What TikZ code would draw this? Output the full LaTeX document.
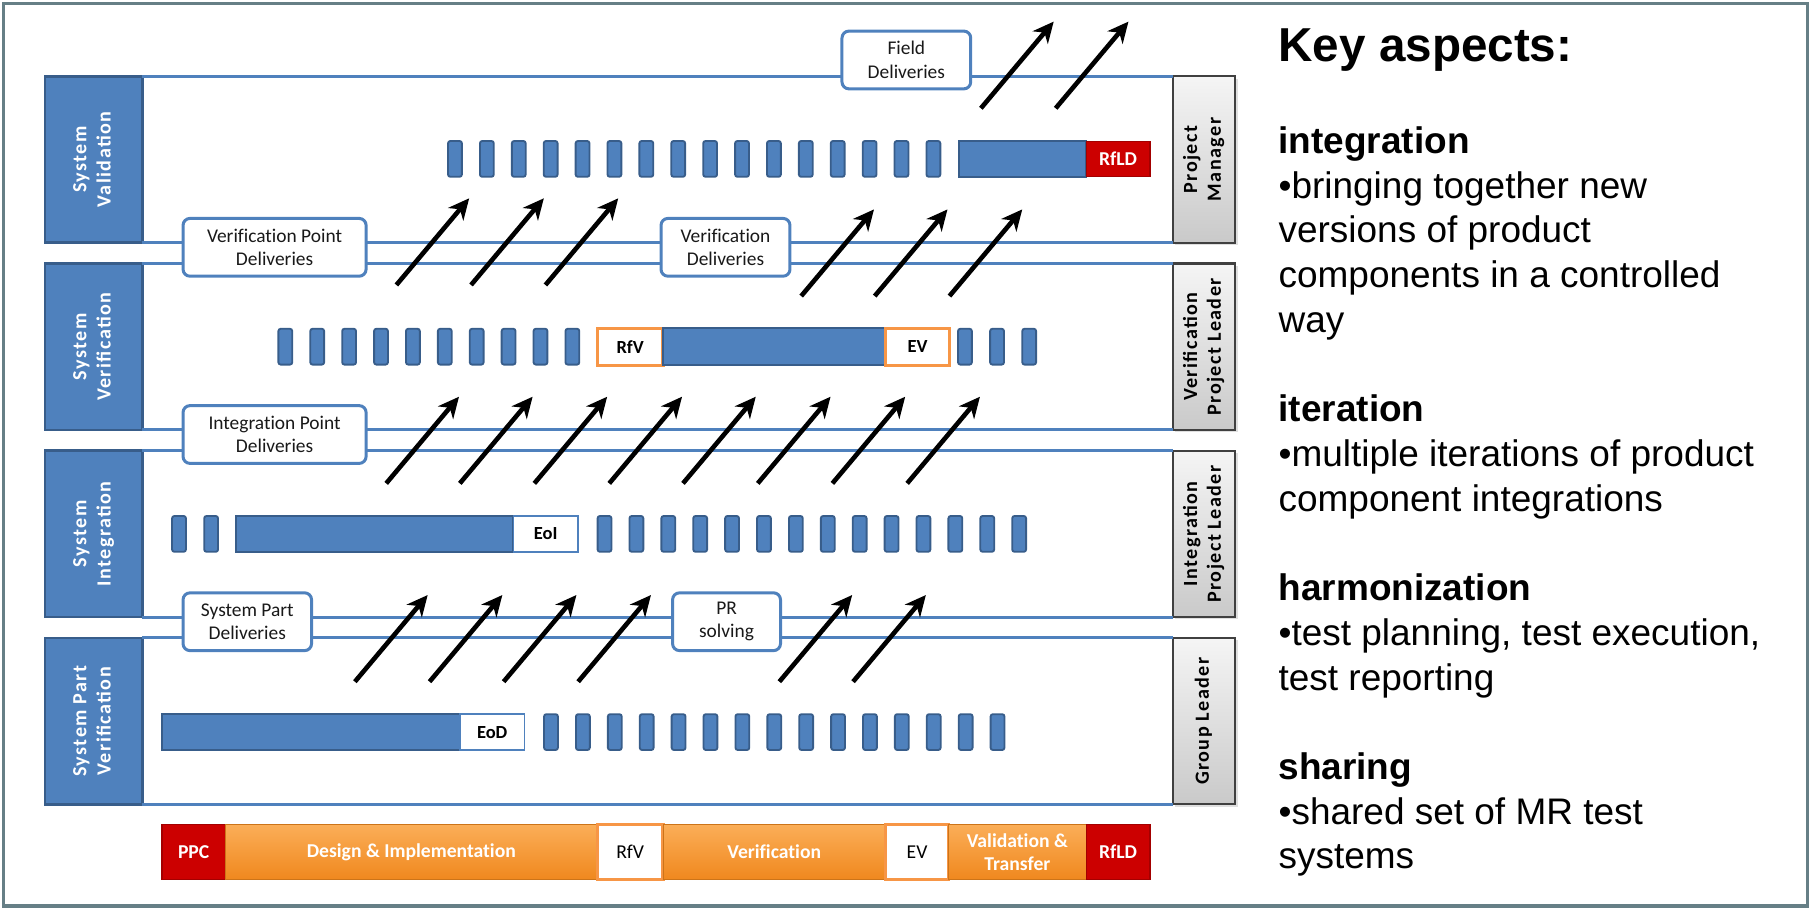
\documentclass[tikz,border=0pt]{standalone}
\usepackage{fontspec}
\setmainfont[Ligatures=NoCommon]{Carlito}
\newfontfamily\lanefont[LetterSpace=7]{Carlito}
\newfontfamily\arialfont{Liberation Sans}
\usepackage{graphicx}
\usetikzlibrary{arrows.meta, positioning, shadows}

\definecolor{laneblue}{HTML}{4F81BD}
\definecolor{lanedark}{HTML}{385D8A}
\definecolor{phaseorange}{HTML}{F79646}
\definecolor{orangetop}{HTML}{FBAE58}
\definecolor{orangebot}{HTML}{F0881E}
\definecolor{gatered}{HTML}{CC0000}
\definecolor{framegray}{HTML}{667F86}

\tikzset{
lanebox/.style={draw=lanedark, fill=laneblue, line width=1.2pt, minimum width=42pt,
    minimum height=72pt, inner sep=0pt, outer sep=0pt, text=white,
    font=\lanefont\fontsize{8.7}{10.5}\selectfont\bfseries},
rolebox/.style={draw=black!75, top color=gray!8, bottom color=gray!42, line width=0.9pt,
    minimum width=27pt, minimum height=72pt, inner sep=0pt, outer sep=0pt,
    font=\lanefont\fontsize{8.7}{10.3}\selectfont\bfseries,
    drop shadow={opacity=0.25, shadow xshift=1pt, shadow yshift=-1pt}},
laneline/.style={draw=laneblue, line width=1.3pt},
pill/.style={draw=lanedark, fill=laneblue, line width=0.8pt, rounded corners=1pt,
    minimum width=6pt, minimum height=15.5pt, inner sep=0pt},
longbar/.style={draw=lanedark, fill=laneblue, line width=0.9pt, minimum height=15.5pt,
    inner sep=0pt, outer sep=0pt},
gate/.style={draw=phaseorange, fill=white, line width=1.4pt, minimum height=16pt,
    inner sep=0pt, outer sep=0pt, font=\fontsize{8}{9}\selectfont\bfseries},
endmark/.style={draw=laneblue, fill=white, line width=0.8pt, minimum height=15.5pt,
    inner sep=0pt, outer sep=0pt, font=\fontsize{8}{9}\selectfont\bfseries},
redbox/.style={draw=gatered!80!black, fill=gatered, line width=0.6pt, text=white,
    inner sep=0pt, outer sep=0pt, font=\fontsize{8.5}{10}\selectfont\bfseries},
phase/.style={top color=orangetop, bottom color=orangebot, draw=orangebot!85!black,
    line width=0.4pt, text=white, minimum height=23.8pt, inner sep=0pt, outer sep=0pt,
    align=center, font=\fontsize{8.5}{10.1}\selectfont\bfseries},
deliv/.style={draw=laneblue, fill=white, line width=1.3pt, rounded corners=3pt,
    minimum height=25pt, inner sep=0pt, align=center, text=black!90,
    font=\fontsize{8.4}{10.1}\selectfont},
bigarrow/.style={-{Stealth[length=9pt, width=8.5pt, inset=2.8pt]}, line width=2pt},
keytitle/.style={anchor=base west, inner sep=0pt, font=\arialfont\bfseries\fontsize{20.6}{24}\selectfont},
keytext/.style={anchor=base west, inner sep=0pt, font=\arialfont\fontsize{16}{19}\selectfont}
}

\begin{document}
\begin{tikzpicture}[x=0.5pt, y=-0.5pt]
\useasboundingbox (0,0) rectangle (1568,787);
\draw[framegray, line width=1.6pt] (3,3) rectangle (1564,784);

% swimlanes
\foreach \ln/\yt/\lab/\role in {1/66/{System\\Validation}/{Project\\Manager},
    2/228/{System\\Verification}/{Verification\\Project Leader},
    3/390/{System\\Integration}/{Integration\\Project Leader},
    4/552/{System Part\\Verification}/{Group Leader}}{
  \node[lanebox] (lane\ln) at (81,\yt+72) {\rotatebox{90}{\begin{tabular}{@{}c@{}}\lab\end{tabular}}};
  \node[rolebox] (role\ln) at (1042,\yt+72) {\rotatebox{90}{\begin{tabular}{@{}c@{}}\role\end{tabular}}};
  \draw[laneline] (lane\ln.north east) -- (role\ln.north west);
  \draw[laneline] (lane\ln.south east) -- (role\ln.south west);
}

% system validation
\foreach \k in {0,...,15}
  \node[pill] (val\k) at (393.7+27.6*\k,137.5) {};
\node[longbar, minimum width=55pt] (valbar) at (885,137.5) {};
\node[redbox, minimum width=27.5pt, minimum height=15pt, right=0pt of valbar] (valrfld) {RfLD};

% system verification
\foreach \k in {0,...,9}
  \node[pill] (ver\k) at (246.9+27.6*\k,300) {};
\node[gate, minimum width=28.4pt] (verrfv) at (545.3,300) {RfV};
\node[longbar, minimum width=96.3pt, minimum height=16pt, right=0pt of verrfv] (verbar) {};
\node[gate, minimum width=27.8pt, right=0pt of verbar] (verev) {EV};
\foreach \k in {0,1,2}
  \node[pill] (vert\k) at (835+27.8*\k,300) {};

% system integration
\foreach \k in {0,1}
  \node[pill] (intp\k) at (154.9+27.8*\k,462) {};
\node[longbar, minimum width=120.15pt] (intbar) at (324.15,462) {};
\node[endmark, minimum width=27.95pt, right=0pt of intbar] (inteoi) {EoI};
\foreach \k in {0,...,13}
  \node[pill] (int\k) at (523.1+27.6*\k,462) {};

% system part verification
\node[longbar, minimum width=128.85pt] (spbar) at (269.05,633.5) {};
\node[endmark, minimum width=28pt, right=0pt of spbar] (speod) {EoD};
\foreach \k in {0,...,14}
  \node[pill] (sp\k) at (476.8+27.6*\k,633.5) {};

% deliveries
\node[deliv, minimum width=55.7pt] (fielddel) at (784.3,51.9) {Field\\Deliveries};
\node[deliv, minimum width=79.2pt] (vpdel) at (237.6,214) {Verification Point\\Deliveries};
\node[deliv, minimum width=55.8pt] (vdel) at (627.8,214) {Verification\\Deliveries};
\node[deliv, minimum width=79.2pt] (ipdel) at (237.6,376) {Integration Point\\Deliveries};
\node[deliv, minimum width=55.6pt] (spdel) at (214,538) {System Part\\Deliveries};
\node[deliv, minimum width=46.7pt] (prdel) at (628.7,538) {PR\\solving};

% hand-over arrows
\foreach \x/\y [count=\k] in {343/246.6, 407.6/246.6, 472/246.6, 693.3/256.2, 756.9/256.2,
    821.6/256.2, 848.8/93.7, 913.5/93.7, 334.2/418.3, 397.9/418.3, 462.4/418.3,
    527.2/418.3, 591/418.3, 655.7/418.3, 720.3/418.3, 785/418.3, 307.1/589.9,
    371.7/589.9, 435.8/589.9, 500.3/589.9, 674.4/589.9, 738.2/589.9}{
  \path (\x,\y) coordinate (ht\k) ++(63,-75) coordinate (hh\k);
  \draw[bigarrow] (ht\k) -- (hh\k);
}

% project phases
\node[redbox, minimum width=27.4pt, minimum height=23.8pt, anchor=west] (ppc) at (140.2,737.2) {PPC};
\node[phase, minimum width=160.95pt, right=0pt of ppc] (design) {Design \& Implementation};
\node[gate, minimum width=28.4pt, minimum height=23.8pt, font=\fontsize{8.5}{10}\selectfont, right=0pt of design] (phrfv) {RfV};
\node[phase, minimum width=96.3pt, right=0pt of phrfv] (verif) {Verification};
\node[gate, minimum width=27.25pt, minimum height=23.8pt, font=\fontsize{8.5}{10}\selectfont, right=0pt of verif] (phev) {EV};
\node[phase, minimum width=59.6pt, right=0pt of phev] (valtr) {Validation \&\\Transfer};
\node[redbox, minimum width=27.5pt, minimum height=23.8pt, right=0pt of valtr] (phrfld) {RfLD};

% key aspects
\node[keytitle] (keyhead) at (1106,53.4) {Key aspects:};
\foreach \txt/\yy [count=\k] in {{\bfseries integration}/132.7, {•bringing together new}/171.4,
    {versions of product}/210.1, {components in a controlled}/248.8, {way}/287.5,
    {\bfseries iteration}/364.9, {•multiple iterations of product}/403.6,
    {component integrations}/442.3, {\bfseries harmonization}/519.7,
    {•test planning, test execution,}/558.4, {test reporting}/597.1,
    {\bfseries sharing}/674.5, {•shared set of MR test}/713.2, {systems}/751.9}
  \node[keytext] (key\k) at (1106,\yy) {\txt};
\end{tikzpicture}
\end{document}
